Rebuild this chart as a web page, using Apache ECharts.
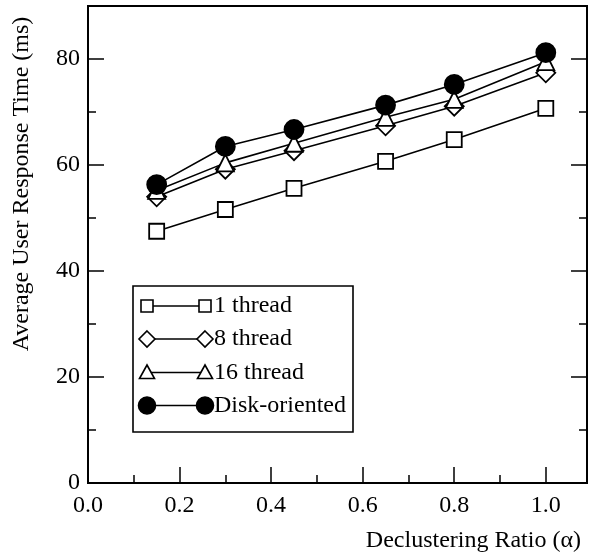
<!DOCTYPE html>
<html>
<head>
<meta charset="utf-8">
<script src="https://cdn.jsdelivr.net/npm/echarts@6/dist/echarts.min.js"></script>
<style>
html,body{margin:0;padding:0;background:#fff;}
#chart{width:592px;height:556px;}
</style>
</head>
<body>
<div id="chart"></div>
<script>
// ---- data ----
const xValues = [0.15, 0.3, 0.45, 0.65, 0.8, 1.0];
const oneThread = [47.5, 51.6, 55.6, 60.7, 64.8, 70.7];
const eightThread = [54.0, 59.2, 62.7, 67.4, 71.1, 77.4];
const sixteenThread = [55.2, 60.4, 64.1, 69.0, 72.4, 79.5];
const diskOriented = [56.3, 63.5, 66.7, 71.3, 75.2, 81.2];
const seriesNames = ['1 thread', '8 thread', '16 thread', 'Disk-oriented'];
const xAxisName = 'Declustering Ratio (\u03B1)';
const yAxisName = 'Average User Response Time (ms)';

const FONT = 'Liberation Serif';
const chart = echarts.init(document.getElementById('chart'), null, {renderer: 'canvas'});

function pairs(ys) { return xValues.map((x, i) => [x, ys[i]]); }

const diamondPath = 'path://M0,-1 L1,0 L0,1 L-1,0 Z';
const trianglePath = 'path://M0,-1 L0.95,0.75 L-0.95,0.75 Z';

const styles = [
  {symbol: 'rect', size: 15, fill: '#fff'},
  {symbol: diamondPath, size: 19, fill: '#fff'},
  {symbol: trianglePath, size: 17, fill: '#fff'},
  {symbol: 'circle', size: 19, fill: '#000'}
];
const dataSets = [oneThread, eightThread, sixteenThread, diskOriented];

const series = dataSets.map((d, i) => ({
  name: seriesNames[i],
  type: 'line',
  xAxisIndex: 0,
  yAxisIndex: 0,
  data: pairs(d),
  symbol: styles[i].symbol,
  symbolSize: styles[i].size,
  symbolKeepAspect: false,
  showAllSymbol: true,
  lineStyle: {color: '#000', width: 1.6},
  itemStyle: {color: styles[i].fill, borderColor: '#000', borderWidth: 1.8},
  emphasis: {disabled: true},
  animation: false,
  z: 3 + i
}));

const xMin = 0, xMax = 1.09, yMin = 0, yMax = 90;

const commonX = {
  type: 'value', min: xMin, max: xMax, position: 'bottom', gridIndex: 0,
  splitLine: {show: false}
};
const commonY = {
  type: 'value', min: yMin, max: yMax, gridIndex: 0,
  splitLine: {show: false}
};

// legend box built with graphic elements
const legendLeft = 133, legendTop = 286, legendW = 220, legendH = 146;
const rowY = [306, 339, 372.5, 405.5];
const lx1 = 147, lx2 = 205, ltext = 214;
const legendSymbolSize = [12, 16, 15, 17];
const legendGraphics = [{
  type: 'rect', shape: {x: legendLeft, y: legendTop, width: legendW, height: legendH},
  style: {fill: '#fff', stroke: '#000', lineWidth: 1.6}, z: 10
}];
function legendSymbol(i, cx, cy) {
  const s = legendSymbolSize[i];
  const st = {fill: styles[i].fill, stroke: '#000', lineWidth: 1.6};
  if (i === 0) return {type: 'rect', shape: {x: cx - s / 2, y: cy - s / 2, width: s, height: s}, style: st, z: 12};
  if (i === 1) return {type: 'polygon', shape: {points: [[cx, cy - s / 2], [cx + s / 2, cy], [cx, cy + s / 2], [cx - s / 2, cy]]}, style: st, z: 12};
  if (i === 2) return {type: 'polygon', shape: {points: [[cx, cy - s / 2], [cx + s / 2, cy + s * 0.4], [cx - s / 2, cy + s * 0.4]]}, style: st, z: 12};
  return {type: 'circle', shape: {cx: cx, cy: cy, r: s / 2}, style: st, z: 12};
}
seriesNames.forEach((n, i) => {
  const cy = rowY[i];
  legendGraphics.push({type: 'line', shape: {x1: lx1, y1: cy, x2: lx2, y2: cy}, style: {stroke: '#000', lineWidth: 1.6}, z: 11});
  legendGraphics.push(legendSymbol(i, lx1, cy));
  legendGraphics.push(legendSymbol(i, lx2, cy));
  legendGraphics.push({type: 'text', x: ltext, y: cy, style: {text: n, font: '24px "' + FONT + '"', fill: '#000', align: 'left', verticalAlign: 'middle'}, z: 12});
});
legendGraphics.push({
  type: 'text', x: 22, y: 184, rotation: Math.PI / 2,
  style: {text: yAxisName, font: '24px "' + FONT + '"', fill: '#000', align: 'center', verticalAlign: 'middle'}, z: 12
});

const option = {
  animation: false,
  backgroundColor: '#fff',
  grid: {left: 88, right: 5, top: 6, bottom: 73, show: true, borderColor: '#000', borderWidth: 2, backgroundColor: 'transparent'},
  xAxis: [
    Object.assign({}, commonX, {
      interval: 0.1,
      name: xAxisName, nameLocation: 'end', nameGap: -6,
      nameTextStyle: {fontFamily: FONT, fontSize: 24, color: '#000', align: 'right', verticalAlign: 'top', padding: [46, 0, 0, 0]},
      axisLine: {show: true, lineStyle: {color: '#000', width: 2}},
      axisTick: {show: true, inside: true, length: 8, lineStyle: {color: '#000', width: 1.5}},
      axisLabel: {
        show: true, margin: 11, fontFamily: FONT, fontSize: 24, color: '#000', showMaxLabel: false,
        formatter: function (v) {
          const k = Math.round(v * 10);
          return (k % 2 === 0 && v <= 1.0001) ? v.toFixed(1) : '';
        }
      }
    }),
    Object.assign({}, commonX, {
      interval: 0.2,
      axisLine: {show: false},
      axisTick: {show: true, inside: true, length: 16, lineStyle: {color: '#000', width: 1.5}},
      axisLabel: {show: false}
    })
  ],
  yAxis: [
    Object.assign({}, commonY, {
      position: 'left', interval: 10,
      axisLine: {show: true, lineStyle: {color: '#000', width: 2}},
      axisTick: {show: true, inside: true, length: 8, lineStyle: {color: '#000', width: 1.5}},
      axisLabel: {
        show: true, margin: 8, fontFamily: FONT, fontSize: 24, color: '#000',
        formatter: function (v) { return (v % 20 === 0 && v <= 80) ? String(v) : ''; }
      }
    }),
    Object.assign({}, commonY, {
      position: 'left', interval: 20,
      axisLine: {show: false},
      axisTick: {show: true, inside: true, length: 16, lineStyle: {color: '#000', width: 1.5}},
      axisLabel: {show: false}
    }),
    Object.assign({}, commonY, {
      position: 'right', interval: 10,
      axisLine: {show: true, lineStyle: {color: '#000', width: 2}},
      axisTick: {show: true, inside: true, length: 8, lineStyle: {color: '#000', width: 1.5}},
      axisLabel: {show: false}
    }),
    Object.assign({}, commonY, {
      position: 'right', interval: 20,
      axisLine: {show: false},
      axisTick: {show: true, inside: true, length: 16, lineStyle: {color: '#000', width: 1.5}},
      axisLabel: {show: false}
    })
  ],
  series: series,
  graphic: legendGraphics
};
chart.setOption(option);
</script>
</body>
</html>
